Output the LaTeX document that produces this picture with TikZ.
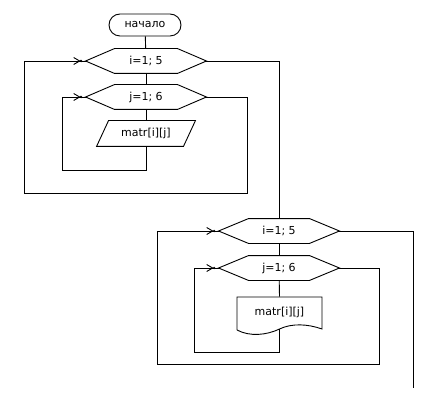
\documentclass[tikz,border=0pt]{standalone}
\usepackage{fontspec}
\setmainfont{DejaVu Sans}
\usetikzlibrary{arrows.meta}
\newcommand\hexdraw[2]{\draw (#1.west) -- ([xshift=#2]#1.north west) -- ([xshift=-#2]#1.north east) -- (#1.east) -- ([xshift=-#2]#1.south east) -- ([xshift=#2]#1.south west) -- cycle;}
\newcommand\loopin[1]{%
  \draw[-{Straight Barb[length=6pt,width=7pt]}] ([xshift=-14pt]#1.west) -- ([xshift=-5pt]#1.west);
  \fill ([xshift=-4.5pt]#1.west) circle (1.3pt);}
\begin{document}
\begin{tikzpicture}[x=1pt,y=-1pt,line width=0.9pt,
  font=\fontsize{11}{13}\selectfont,
  term/.style={draw,rounded corners=11pt,minimum width=72pt,minimum height=22pt,inner sep=0pt},
  hexbox/.style={inner sep=0pt,minimum width=120pt,minimum height=24pt},
  parbox/.style={inner sep=0pt,minimum width=98pt,minimum height=25pt},
  docbox/.style={inner sep=0pt,minimum width=85pt,minimum height=30pt}]
\useasboundingbox (0,0) rectangle (435,411);
% first structure
\node[term] (start) at (145,25) {начало};
\node[hexbox] (i1) at (146,61) {i=1; 5};
\hexdraw{i1}{29pt}
\node[hexbox] (j1) at (146,97) {j=1; 6};
\hexdraw{j1}{29pt}
\node[parbox] (p1) at (146,133.5) {matr[i][j]};
\draw ([xshift=12pt]p1.north west) -- (p1.north east) -- ([xshift=-12pt]p1.south east) -- (p1.south west) -- cycle;
% second structure
\node[hexbox] (i2) at (279,231) {i=1; 5};
\hexdraw{i2}{30pt}
\node[hexbox] (j2) at (279,268) {j=1; 6};
\hexdraw{j2}{30pt}
\node[docbox] (d2) at (279.5,312) {matr[i][j]};
\draw (237,330) -- (237,297) -- (322,297) -- (322,329)
  .. controls (308,324) and (292,323) .. (279.5,329)
  .. controls (267,335) and (250,337) .. (237,330);
% coordinates
\coordinate (a1) at (146,170);
\coordinate (a2) at (62,170);
\coordinate (b1) at (247,97);
\coordinate (b2) at (247,193);
\coordinate (b3) at (24,193);
\coordinate (c0) at (279.5,329);
\coordinate (c1) at (279.5,352);
\coordinate (c2) at (194,352);
\coordinate (e1) at (379,268);
\coordinate (e2) at (379,364);
\coordinate (e3) at (157,364);
\coordinate (f1) at (413,231);
\coordinate (f2) at (413,388);
% connectors
\draw (start) -- (i1);
\draw (i1) -- (j1);
\draw (j1) -- (p1);
\draw (p1.south) -- (a1) -- (a2) |- (j1.west);
\loopin{j1}
\draw (j1.east) -- (b1) -- (b2) -- (b3) |- (i1.west);
\loopin{i1}
\draw (i1.east) -| (i2.north);
\draw (i2) -- (j2);
\draw (j2) -- (d2.north);
\draw (c0) -- (c1) -- (c2) |- (j2.west);
\loopin{j2}
\draw (j2.east) -- (e1) -- (e2) -- (e3) |- (i2.west);
\loopin{i2}
\draw (i2.east) -- (f1) -- (f2);
\end{tikzpicture}
\end{document}
